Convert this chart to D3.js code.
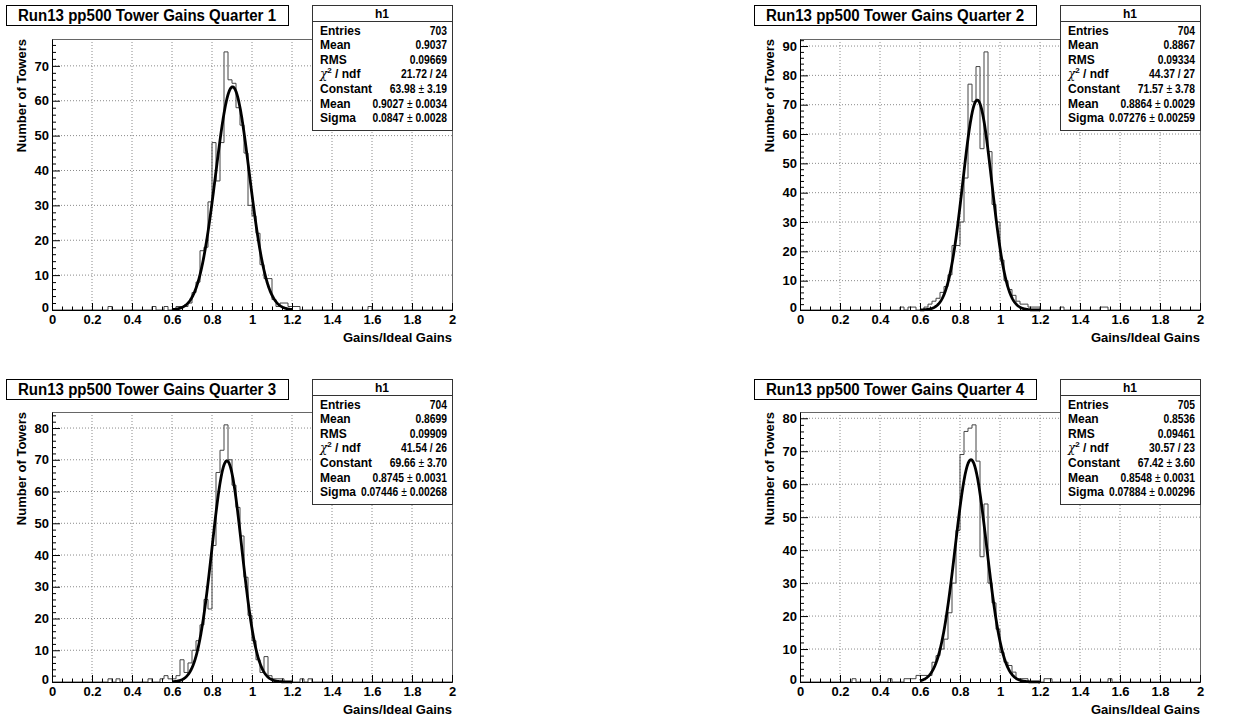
<!DOCTYPE html>
<html>
<head>
<meta charset="utf-8">
<script src="https://cdn.jsdelivr.net/npm/d3@7"></script>
<style>
  html, body { margin: 0; padding: 0; background: #fff; }
  svg { display: block; font-family: "Liberation Sans", Arial, Helvetica, sans-serif; }
</style>
</head>
<body>
<svg id="chart" width="1245" height="717"></svg>
<script>
// Tower gain ratio histograms, 100 bins of width 0.02 on [0, 2]
const binLow = 0, binHigh = 2, nBins = 100;

const q1Counts = [
  0,0,0,0,0, 0,0,0,0,0, 0,0,0,0,1, 0,0,0,0,0,
  0,0,0,0,0, 1,0,0,1,0, 0,1,1,1,2, 5,8,17,18,31,
  48,37,48,74,66, 65,58,53,45,30, 27,22,13,9,9, 3,1,2,2,1,
  1,1,0,0,0, 0,0,0,0,0, 0,0,0,0,0, 0,0,0,0,1,
  0,0,0,0,0, 0,0,0,0,0, 0,0,0,0,0, 0,0,0,0,0
];
const q2Counts = [
  0,0,0,0,0, 0,0,0,0,0, 0,0,0,0,0, 0,0,0,0,0,
  0,0,0,0,0, 1,0,1,1,0, 0,1,2,3,4, 6,8,12,22,22,
  30,45,77,71,83, 55,88,54,36,30, 17,10,7,5,3, 2,2,1,1,1,
  0,0,0,0,0, 1,0,0,0,0, 0,0,0,0,0, 1,1,0,0,0,
  0,0,0,0,0, 0,0,0,0,0, 0,0,0,0,0, 0,0,0,0,0
];
const q3Counts = [
  0,0,0,0,0, 0,0,0,0,0, 0,0,0,0,1, 0,1,0,0,0,
  0,0,0,0,1, 0,0,1,2,1, 1,2,7,3,6, 10,13,18,26,23,
  43,66,73,81,70, 62,55,46,33,21, 13,7,3,8,2, 1,1,1,0,0,
  0,0,1,0,1, 0,0,0,0,0, 0,0,0,0,0, 0,0,0,0,0,
  0,0,0,0,0, 0,0,0,0,0, 0,0,0,0,0, 0,0,0,0,0
];
const q4Counts = [
  0,0,0,0,0, 0,0,0,0,0, 0,0,0,1,0, 0,0,0,0,0,
  0,0,1,0,0, 0,1,1,1,2, 2,2,2,6,8, 10,13,21,30,46,
  69,76,77,78,67, 38,54,30,24,16, 9,6,5,3,1, 1,1,0,0,0,
  0,1,1,0,0, 0,0,0,0,0, 0,0,0,0,0, 0,0,1,0,0,
  0,0,0,0,0, 0,0,0,0,0, 0,0,0,0,0, 0,0,0,0,0
];

// Statistics box contents
const entries   = [703, 704, 704, 705];
const meanText  = ["0.9037", "0.8867", "0.8699", "0.8536"];
const rmsText   = ["0.09669", "0.09334", "0.09909", "0.09461"];
const chi2Text  = ["21.72 / 24", "44.37 / 27", "41.54 / 26", "30.57 / 23"];
// Gaussian fit results: [value, error]
const fitConstant = [[63.98, 3.19], [71.57, 3.78], [69.66, 3.70], [67.42, 3.60]];
const fitMean     = [[0.9027, 0.0034], [0.8864, 0.0029], [0.8745, 0.0031], [0.8548, 0.0031]];
const fitSigma    = [[0.0847, 0.0028], [0.07276, 0.00259], [0.07446, 0.00268], [0.07884, 0.00296]];
const fitDigits   = [[2, 4, 4], [2, 4, 5], [2, 4, 5], [2, 4, 5]];
const fitRange    = [0.6, 1.2];

const titles = [
  "Run13 pp500 Tower Gains Quarter 1",
  "Run13 pp500 Tower Gains Quarter 2",
  "Run13 pp500 Tower Gains Quarter 3",
  "Run13 pp500 Tower Gains Quarter 4"
];
const xTitle = "Gains/Ideal Gains";
const yTitle = "Number of Towers";
const xMajorTicks = [0, 0.2, 0.4, 0.6, 0.8, 1, 1.2, 1.4, 1.6, 1.8, 2];

const countsList = [q1Counts, q2Counts, q3Counts, q4Counts];

// Pad geometry
const pads = [
  { x0: 52,  top: 39,  bottom: 310, boxTop: 5 },
  { x0: 800, top: 39,  bottom: 310, boxTop: 5 },
  { x0: 52,  top: 412, bottom: 682, boxTop: 379 },
  { x0: 800, top: 412, bottom: 682, boxTop: 379 }
];
const frameW = 400;

const svg = d3.select("#chart");

pads.forEach((p, i) => {
  const counts = countsList[i];
  const g = svg.append("g");
  const x = d3.scaleLinear().domain([binLow, binHigh]).range([p.x0, p.x0 + frameW]);
  const yMax = d3.max(counts) * 1.05;
  const y = d3.scaleLinear().domain([0, yMax]).range([p.bottom, p.top]);
  const yMajor = d3.range(0, yMax, 10);
  const yMinor = d3.range(0, yMax, 2).filter(v => v % 10 !== 0);
  const xMinor = d3.range(0, 2.0001, 0.05).filter(v => Math.abs(v / 0.2 - Math.round(v / 0.2)) > 1e-6);

  // dotted grid
  g.append("g").selectAll("line").data(xMajorTicks.slice(1, -1)).join("line")
    .attr("x1", d => x(d)).attr("x2", d => x(d))
    .attr("y1", p.top).attr("y2", p.bottom)
    .attr("stroke", "#8a8a8a").attr("stroke-width", 1).attr("stroke-dasharray", "1,2");
  g.append("g").selectAll("line").data(yMajor.slice(1)).join("line")
    .attr("x1", p.x0).attr("x2", p.x0 + frameW)
    .attr("y1", d => y(d)).attr("y2", d => y(d))
    .attr("stroke", "#8a8a8a").attr("stroke-width", 1).attr("stroke-dasharray", "1,2");

  // frame
  g.append("rect")
    .attr("x", p.x0 + 0.5).attr("y", p.top + 0.5)
    .attr("width", frameW).attr("height", p.bottom - p.top)
    .attr("fill", "none").attr("stroke", "#666").attr("stroke-width", 1);

  // histogram outline
  const histPath = d3.path();
  const bw = (binHigh - binLow) / nBins;
  histPath.moveTo(x(binLow), y(0));
  counts.forEach((c, k) => {
    histPath.lineTo(x(binLow + k * bw), y(c));
    histPath.lineTo(x(binLow + (k + 1) * bw), y(c));
  });
  histPath.lineTo(x(binHigh), y(0));
  g.append("path").attr("d", histPath.toString())
    .attr("fill", "none").attr("stroke", "#444").attr("stroke-width", 1);

  // Gaussian fit curve
  const [A] = fitConstant[i], [mu] = fitMean[i], [sig] = fitSigma[i];
  const fx = d3.range(fitRange[0], fitRange[1] + 1e-9, 0.002);
  const line = d3.line().x(d => x(d)).y(d => y(A * Math.exp(-0.5 * ((d - mu) / sig) ** 2)));
  g.append("path").datum(fx).attr("d", line)
    .attr("fill", "none").attr("stroke", "#000").attr("stroke-width", 2.8)
    .attr("stroke-linejoin", "round");

  // x axis
  const xAxis = g.append("g").attr("transform", `translate(0,${p.bottom})`)
    .call(d3.axisBottom(x).tickValues(xMajorTicks).tickSizeInner(-7).tickSizeOuter(0)
      .tickPadding(5).tickFormat(d3.format("~g")));
  xAxis.select(".domain").attr("stroke", "#000");
  xAxis.selectAll(".tick line").attr("stroke", "#000");
  xAxis.selectAll("text").attr("font-size", 13).attr("font-weight", "bold").attr("fill", "#000")
    .attr("font-family", "Liberation Sans, Arial, sans-serif");
  g.append("g").attr("transform", `translate(0,${p.bottom})`)
    .call(d3.axisBottom(x).tickValues(xMinor).tickSizeInner(-3.5).tickSizeOuter(0).tickFormat(""))
    .call(s => s.select(".domain").remove())
    .selectAll("line").attr("stroke", "#000");

  // y axis
  const yAxis = g.append("g").attr("transform", `translate(${p.x0},0)`)
    .call(d3.axisLeft(y).tickValues(yMajor).tickSizeInner(-8).tickSizeOuter(0)
      .tickPadding(3).tickFormat(d3.format("d")));
  yAxis.select(".domain").attr("stroke", "#000");
  yAxis.selectAll(".tick line").attr("stroke", "#000");
  yAxis.selectAll("text").attr("font-size", 13).attr("font-weight", "bold").attr("fill", "#000")
    .attr("font-family", "Liberation Sans, Arial, sans-serif");
  yAxis.selectAll(".tick").filter(d => d === 0).select("text").attr("dy", "0.1em");
  g.append("g").attr("transform", `translate(${p.x0},0)`)
    .call(d3.axisLeft(y).tickValues(yMinor).tickSizeInner(-4).tickSizeOuter(0).tickFormat(""))
    .call(s => s.select(".domain").remove())
    .selectAll("line").attr("stroke", "#000");

  // axis titles
  g.append("text")
    .attr("x", p.x0 + frameW).attr("y", p.bottom + 32)
    .attr("text-anchor", "end").attr("font-size", 13).attr("font-weight", "bold")
    .text(xTitle);
  g.append("text")
    .attr("transform", `translate(${p.x0 - 26},${p.top}) rotate(-90)`)
    .attr("text-anchor", "end").attr("font-size", 13).attr("font-weight", "bold")
    .text(yTitle);

  // title box
  const tb = g.append("g");
  tb.append("rect")
    .attr("x", p.x0 - 46 + 0.5).attr("y", p.boxTop + 0.5)
    .attr("width", 282).attr("height", 20)
    .attr("fill", "#fff").attr("stroke", "#000").attr("stroke-width", 1);
  tb.append("text")
    .attr("x", p.x0 - 46 + 141).attr("y", p.boxTop + 16)
    .attr("text-anchor", "middle").attr("font-size", 16).attr("font-weight", "bold")
    .attr("textLength", 258).attr("lengthAdjust", "spacingAndGlyphs")
    .text(titles[i]);

  // statistics box
  const sx = p.x0 + frameW - 140, sy = p.boxTop, sw = 140, sh = 125;
  const sb = g.append("g");
  sb.append("rect").attr("x", sx + 0.5).attr("y", sy + 0.5).attr("width", sw).attr("height", sh)
    .attr("fill", "#fff").attr("stroke", "#333").attr("stroke-width", 1);
  sb.append("line").attr("x1", sx).attr("x2", sx + sw).attr("y1", sy + 16.5).attr("y2", sy + 16.5)
    .attr("stroke", "#333");
  sb.append("text").attr("x", sx + sw / 2).attr("y", sy + 13).attr("text-anchor", "middle")
    .attr("font-size", 12).attr("font-weight", "bold").text("h1");

  const fmt = (v, d) => v.toFixed(d);
  const dig = fitDigits[i];
  const rows = [
    ["Entries", String(entries[i])],
    ["Mean", meanText[i]],
    ["RMS", rmsText[i]],
    ["chi2", chi2Text[i]],
    ["Constant", [fmt(fitConstant[i][0], dig[0]), fmt(fitConstant[i][1], dig[0])]],
    ["Mean", [fmt(fitMean[i][0], dig[1]), fmt(fitMean[i][1], dig[1])]],
    ["Sigma", [fmt(fitSigma[i][0], dig[2]), fmt(fitSigma[i][1], dig[2])]]
  ];
  rows.forEach((r, j) => {
    const ry = sy + 29.5 + j * 14.6;
    const lab = sb.append("text").attr("x", sx + 8).attr("y", ry)
      .attr("font-size", 12).attr("font-weight", "bold");
    if (r[0] === "chi2") {
      lab.append("tspan").attr("font-weight", "normal").attr("font-family", "DejaVu Serif, serif")
        .attr("font-style", "italic").attr("font-size", 12).text("χ");
      lab.append("tspan").attr("font-size", 8).attr("dy", -5).text("2");
      lab.append("tspan").attr("dy", 5).text(" / ndf");
    } else {
      lab.text(r[0]);
    }
    // values are set slightly condensed so the longest entries fit the box
    const vg = sb.append("g").attr("transform", `translate(${sx + sw - 5},${ry}) scale(0.86,1)`);
    const val = vg.append("text").attr("x", 0).attr("y", 0)
      .attr("text-anchor", "end").attr("font-size", 12).attr("font-weight", "bold");
    if (Array.isArray(r[1])) {
      val.append("tspan").text(r[1][0] + " ");
      val.append("tspan").attr("font-weight", "normal").text("±");
      val.append("tspan").text(" " + r[1][1]);
    } else {
      val.text(r[1]);
    }
  });
});
</script>
</body>
</html>
